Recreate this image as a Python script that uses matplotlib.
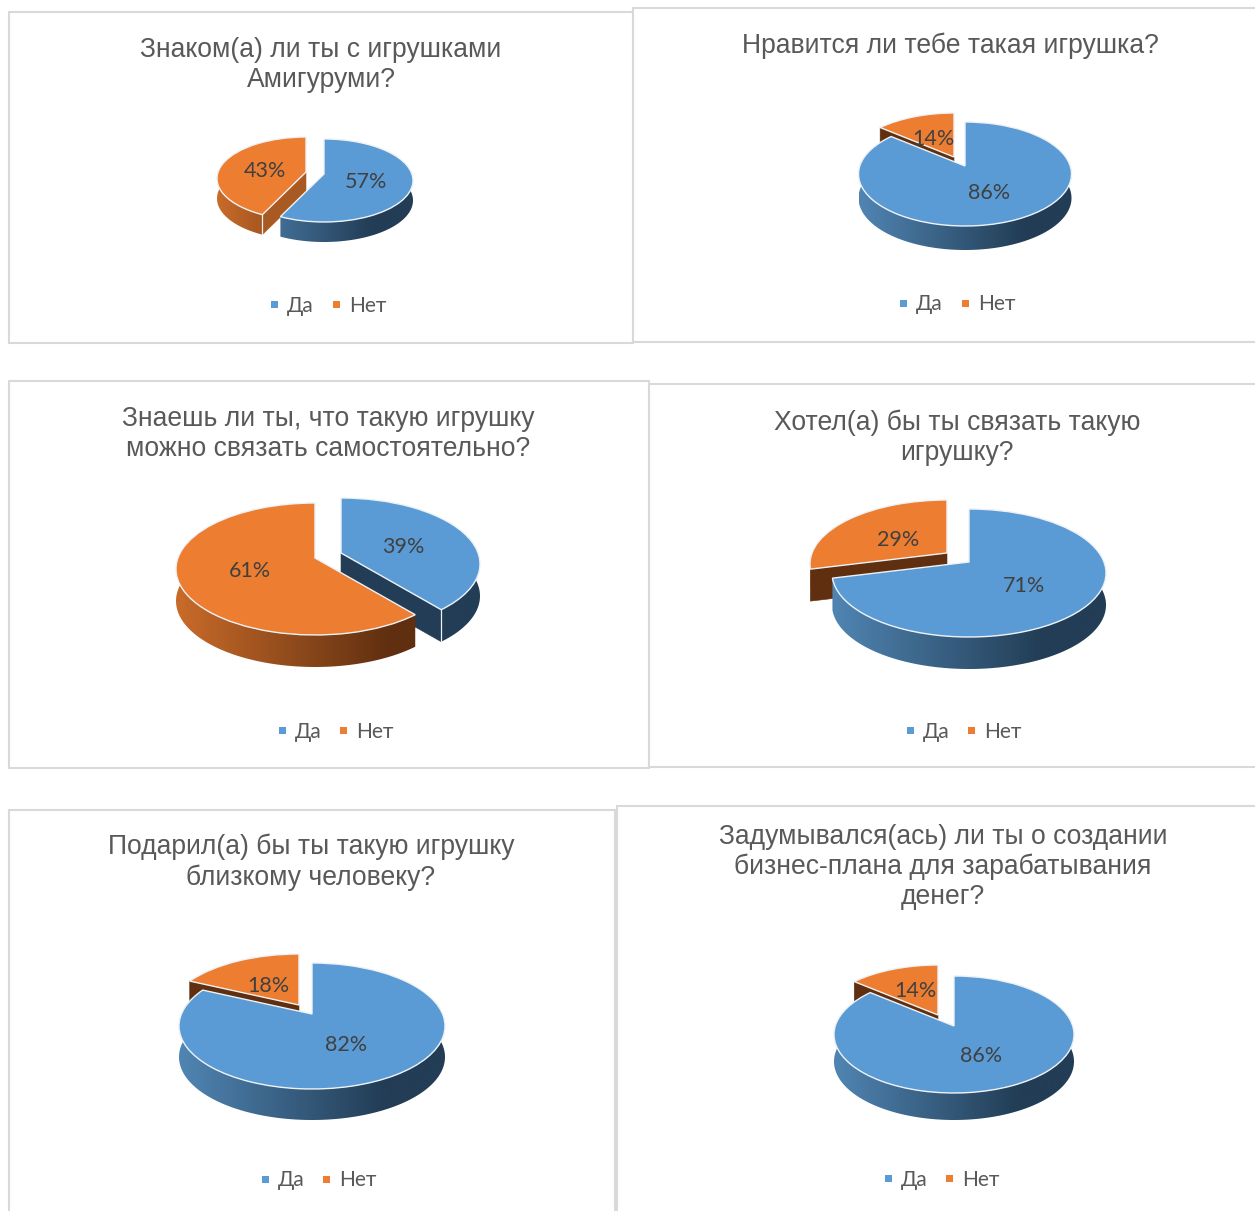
#!/usr/bin/env python3
# Six survey pies drawn as tilted 3D discs on one pixel-sized canvas
import numpy as np
import matplotlib
matplotlib.use('Agg')
import matplotlib.pyplot as plt
import matplotlib.colors as mcolors
import matplotlib.transforms as mtransforms
from matplotlib.patches import Rectangle

W, H = 1255, 1211

# data
series_names = ['Да', 'Нет']
yes_values = [57, 86, 39, 71, 82, 86]
no_values = [43, 14, 61, 29, 18, 14]
titles = [
    'Знаком(а) ли ты с игрушками\nАмигуруми?',
    'Нравится ли тебе такая игрушка?',
    'Знаешь ли ты, что такую игрушку\nможно связать самостоятельно?',
    'Хотел(а) бы ты связать такую\nигрушку?',
    'Подарил(а) бы ты такую игрушку\nблизкому человеку?',
    'Задумывался(ась) ли ты о создании\nбизнес-плана для зарабатывания\nденег?',
]

# layout, in pixels of the picture
boxes = [(9, 12, 624, 331), (633, 8, 640, 334), (9, 381, 640, 387),
         (649, 384, 624, 383), (9, 810, 606, 420), (617, 806, 656, 424)]
title_pos = [(321, 65), (950, 46), (328, 433.5), (957, 437.5), (311, 862.5), (943, 867)]
legend_pos = [(274, 336, 304), (903, 965, 303), (282, 343, 730),
              (910, 971, 730), (265, 326, 1179), (888, 949, 1178)]
yes_apex = [(324, 174), (965, 166), (341, 553), (969, 562), (312, 1014), (954, 1026)]
no_apex = [(306, 172), (954, 157), (315, 558), (947, 553), (299, 1005), (938, 1015)]
# rx, back radius, front radius, depth of each disc
discs = [(89, 35, 48, 20), (106.5, 44, 60, 24), (139, 55, 77, 32),
         (137, 53, 75, 32), (133, 51, 75, 31), (120, 50, 67, 27)]
yes_label_pos = [(366, 182), (989, 193), (403, 547), (1024, 586), (346, 1045), (981, 1056)]
no_label_pos = [(265, 171), (933, 139), (250, 571), (898, 540), (268, 986), (915, 991)]
no_face_colors = ['#A85A22', '#5F2F10', '#5F2F10', '#5F2F10', '#5F2F10', '#5F2F10']

BLUE, ORANGE = '#5B9BD5', '#ED7D31'
BLUE_SIDE = ('#5085B3', '#223D55')
ORANGE_SIDE = ('#C96B2A', '#5F2F10')
EDGE = '#EEF2F6'

plt.rcParams['font.family'] = ['Lato', 'Noto Sans', 'DejaVu Sans']


class Tilt(mtransforms.Transform):
    """Perspective from the unit pie circle to pixels."""
    input_dims = output_dims = 2
    is_separable = False
    has_inverse = False

    def __init__(self, apex, disc):
        super().__init__()
        rx, back, front, _ = disc
        self.apex = apex
        self.k = (front - back) / (front + back)
        self.b = 2 * back * front / (front + back)
        self.a = rx * np.sqrt(1 - self.k ** 2)

    def transform_non_affine(self, values):
        xy = np.asarray(values, dtype=float)
        d = 1 + self.k * xy[:, 1]
        return np.column_stack([self.apex[0] + self.a * xy[:, 0] / d,
                                self.apex[1] - self.b * xy[:, 1] / d])


def draw_slice(ax, wedge, start, end, apex, disc, side, face_color, z):
    """Outer wall, cut wall and top of a slice; angles clockwise from the top."""
    tilt = Tilt(apex, disc)
    rx, depth = disc[0], disc[3]

    # outer wall: a left to right gradient clipped to the wall outline
    th = np.radians(np.linspace(start, end, max(int(end - start), 2) + 1))
    th = th[np.cos(th) < 0.25]
    if len(th) > 1:
        rim = tilt.transform(np.column_stack([np.sin(th), np.cos(th)]))
        outline = np.vstack([rim, rim[::-1] + (0, depth)])
        cmap = mcolors.LinearSegmentedColormap.from_list(
            'side', [(0, side[0]), (0.775, side[1]), (1, side[1])])
        gradient = np.linspace(0, 1, 256).reshape(1, -1)
        im = ax.imshow(gradient, cmap=cmap, aspect='auto', zorder=z,
                       extent=(apex[0] - rx, apex[0] + rx, apex[1] + 200, apex[1] - 200))
        wall = plt.Polygon(outline, transform=ax.transData, facecolor='none', edgecolor='none')
        im.set_clip_path(wall)

    # cut walls that face the viewer
    for angle, sign in ((start, -1), (end, 1)):
        rad = np.radians(angle)
        if sign * np.sin(rad) <= 0.001:
            continue
        tip = tilt.transform(np.array([[np.sin(rad), np.cos(rad)]]))[0]
        ap = np.array(apex, dtype=float)
        ax.add_patch(plt.Polygon([ap, tip, tip + (0, depth), ap + (0, depth)],
                                 facecolor=face_color, edgecolor=face_color,
                                 linewidth=0.4, zorder=z + 0.1))
        if np.cos(rad) < -0.4:
            ax.plot([tip[0], tip[0]], [tip[1], tip[1] + depth], color=EDGE, lw=0.9,
                    zorder=z + 0.2)

    # top face comes straight from ax.pie
    wedge.set_transform(tilt + ax.transData)
    wedge.set_zorder(z + 0.3)


fig = plt.figure(figsize=(W / 100, H / 100), dpi=100, facecolor='white')
ax = fig.add_axes([0, 0, 1, 1])

for i in range(len(titles)):
    x, y, w, h = boxes[i]
    ax.add_patch(Rectangle((x, y), w, h, facecolor='white', edgecolor='#D9D9D9',
                           linewidth=1.5, zorder=i * 0.01))

    values = [yes_values[i], no_values[i]]
    wedges, _ = ax.pie(values, colors=[BLUE, ORANGE], startangle=90, counterclock=False,
                       wedgeprops=dict(edgecolor=EDGE, linewidth=1.0))
    edges = np.cumsum([0] + values) / sum(values) * 360
    apexes = [yes_apex[i], no_apex[i]]
    sides = [BLUE_SIDE, ORANGE_SIDE]
    faces = ['#223D55', no_face_colors[i]]
    # the slice lying lower on the page goes on top
    for rank, j in enumerate(np.argsort([apexes[0][1], apexes[1][1]])):
        draw_slice(ax, wedges[j], edges[j], edges[j + 1], apexes[j], discs[i],
                   sides[j], faces[j], 1 + rank)

    ax.text(*yes_label_pos[i], f'{yes_values[i]}%', fontsize=15.5, color='#404040',
            ha='center', va='center', zorder=5)
    ax.text(*no_label_pos[i], f'{no_values[i]}%', fontsize=15.5, color='#404040',
            ha='center', va='center', zorder=5)

    ax.text(title_pos[i][0], title_pos[i][1], titles[i], fontsize=19.1, color='#595959',
            family=['Liberation Sans', 'DejaVu Sans'], ha='center', va='center',
            linespacing=1.2, zorder=5)

    lx1, lx2, ly = legend_pos[i]
    for lx, name, color in zip((lx1, lx2), series_names, (BLUE, ORANGE)):
        ax.add_patch(Rectangle((lx - 3.5, ly - 3.5), 7, 7, facecolor=color, edgecolor='none', zorder=5))
        ax.text(lx + 13, ly + 1.5, name, fontsize=15, color='#595959', ha='left', va='center', zorder=5)

ax.set_aspect('auto')
ax.set_xlim(0, W)
ax.set_ylim(H, 0)
ax.axis('off')

fig.savefig('out.png', dpi=100, facecolor='white')
plt.close(fig)
